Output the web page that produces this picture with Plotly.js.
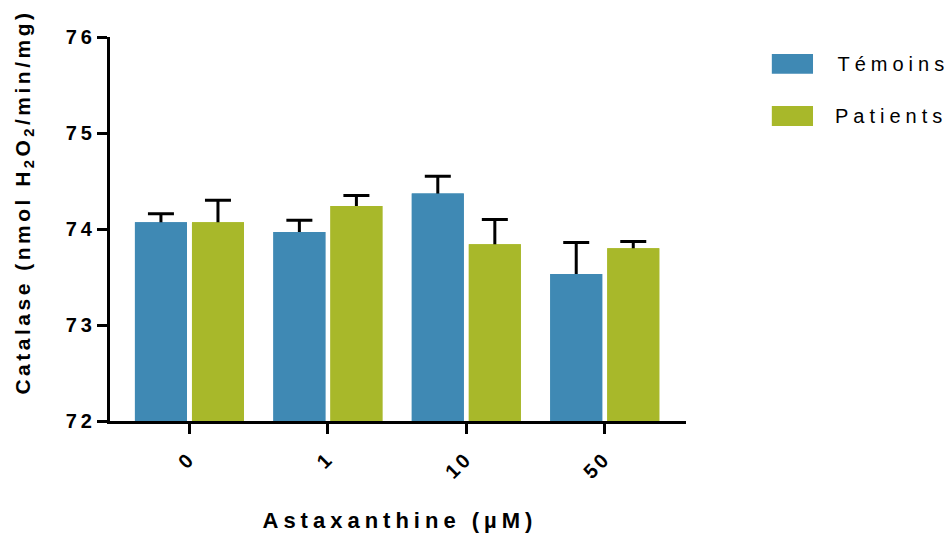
<!DOCTYPE html>
<html>
<head>
<meta charset="utf-8">
<script src="https://cdn.plot.ly/plotly-3.0.1.min.js"></script>
<style>
  html, body { margin: 0; padding: 0; background: #fff; }
  #chart { width: 952px; height: 535px; }
  .ytick text { letter-spacing: 4px; }
  .xtick text { letter-spacing: 3px; }
  .annotation[data-index="0"] text, .annotation[data-index="1"] text { letter-spacing: 5px; }
  .annotation[data-index="2"] text { letter-spacing: 5px; }
  .annotation[data-index="3"] text { letter-spacing: 3.5px; }
</style>
</head>
<body>
<div id="chart"></div>
<script>
const categories = ["0", "1", "10", "50"];
const seriesNames = ["Témoins", "Patients"];
const temoinsValues = [74.07, 73.97, 74.37, 73.53];
const temoinsErrors = [0.09, 0.12, 0.18, 0.33];
const patientsValues = [74.07, 74.24, 73.84, 73.80];
const patientsErrors = [0.23, 0.11, 0.26, 0.07];
const seriesColors = ["#3f89b4", "#a8b82a"];
const yTickVals = [72, 73, 74, 75, 76];
const xTitle = "Astaxanthine (µM)";
const yTitle = "Catalase (nmol H<sub>2</sub>O<sub>2</sub>/min/mg)";

const FONT = "Liberation Sans, Arial, Helvetica, sans-serif";

// bar with upper-only error bar; the lower crossbar is hidden under a covering copy of the bar
function barTrace(name, vals, errs, color, group, withErr) {
  const t = {
    type: "bar",
    name: name,
    x: categories,
    y: vals,
    offsetgroup: group,
    marker: { color: color, line: { width: 0 } },
    showlegend: false,
    hoverinfo: "skip"
  };
  if (withErr) {
    t.error_y = {
      type: "data", symmetric: false, array: errs,
      arrayminus: errs.map(() => 0.03),
      color: "#000", thickness: 3, width: 13
    };
  }
  return t;
}

const data = [
  barTrace(seriesNames[0], temoinsValues, temoinsErrors, seriesColors[0], "t", true),
  barTrace(seriesNames[1], patientsValues, patientsErrors, seriesColors[1], "p", true),
  barTrace(seriesNames[0], temoinsValues, temoinsErrors, seriesColors[0], "t", false),
  barTrace(seriesNames[1], patientsValues, patientsErrors, seriesColors[1], "p", false)
];

const legendY = [[0.956, 0.904], [0.820, 0.768]];
const shapes = seriesNames.map((n, i) => ({
  type: "rect", xref: "paper", yref: "paper",
  x0: 1.149, x1: 1.2205, y0: legendY[i][1], y1: legendY[i][0],
  fillcolor: seriesColors[i], line: { width: 0 }
}));
const annotations = seriesNames.map((n, i) => ({
  xref: "paper", yref: "paper", x: 1.29, y: (legendY[i][0] + legendY[i][1]) / 2,
  xanchor: "left", yanchor: "middle", showarrow: false, text: n,
  font: { family: FONT, size: 20, color: "#000" }
}));
annotations.push({
  xref: "paper", yref: "paper", x: 0.503, y: -0.26, xanchor: "center", yanchor: "middle",
  showarrow: false, text: "<b>" + xTitle + "</b>",
  font: { family: FONT, size: 22, color: "#000" }
});
annotations.push({
  xref: "paper", yref: "paper", x: -0.149, y: 0.57, xanchor: "center", yanchor: "middle",
  showarrow: false, textangle: -90, text: "<b>" + yTitle + "</b>",
  font: { family: FONT, size: 21, color: "#000" }
});

const layout = {
  width: 952, height: 535,
  margin: { l: 110, r: 266, t: 37, b: 114, pad: 0 },
  paper_bgcolor: "#fff", plot_bgcolor: "#fff",
  barmode: "group", bargap: 0.176, bargroupgap: 0.088,
  font: { family: FONT, color: "#000" },
  xaxis: {
    type: "category", range: [-0.574, 3.587],
    showline: true, linecolor: "#000", linewidth: 3,
    ticks: "outside", ticklen: 10, tickwidth: 3, tickcolor: "#000",
    tickangle: -45, tickfont: { family: FONT, size: 20, color: "#000", weight: "bold" },
    ticklabelstandoff: 5,
    showgrid: false, zeroline: false, fixedrange: true
  },
  yaxis: {
    range: [72, 76], tickvals: yTickVals, ticktext: yTickVals.map(String),
    showline: true, linecolor: "#000", linewidth: 3,
    ticks: "outside", ticklen: 10, tickwidth: 3, tickcolor: "#000",
    tickfont: { family: FONT, size: 20, color: "#000", weight: "bold" },
    ticklabelstandoff: -3,
    showgrid: false, zeroline: false, fixedrange: true
  },
  shapes: shapes,
  annotations: annotations
};

Plotly.newPlot("chart", data, layout, { displayModeBar: false, staticPlot: true });
</script>
</body>
</html>
